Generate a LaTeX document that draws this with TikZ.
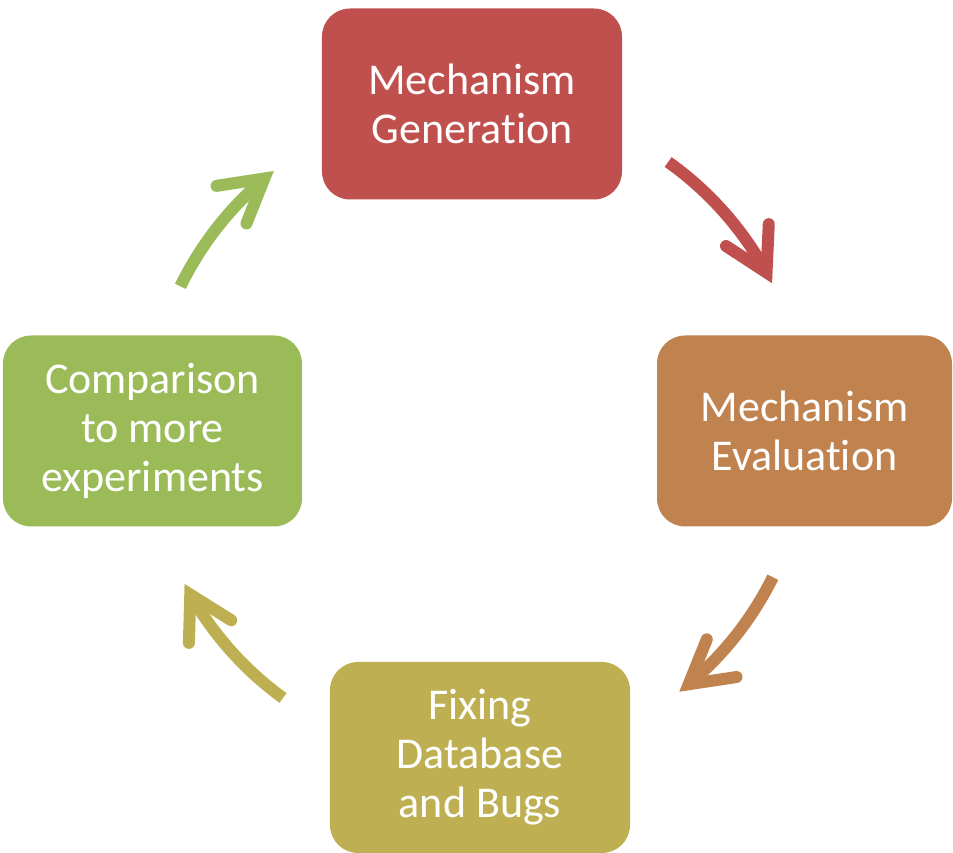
\documentclass[tikz,border=0pt]{standalone}
\usepackage{fontspec}
\setmainfont{Carlito}[Ligatures=NoCommon]
\usetikzlibrary{arrows.meta,bending}
\definecolor{genred}{HTML}{C0504D}
\definecolor{evalorange}{HTML}{C0824F}
\definecolor{fixolive}{HTML}{BEB052}
\definecolor{compgreen}{HTML}{9BBB59}
% keep t and i apart
\newcommand{\tibreak}{t\kern0pt i}

\begin{document}
\begin{tikzpicture}
		[
		x=1pt,y=1pt,
		block/.style={
		rectangle,
		rounded corners=28pt,
		minimum width=299pt,
		minimum height=191pt,
		text=white,
		align=center,
		font=\fontsize{44}{49}\selectfont},
		cycle/.style={
		line width=12pt,
		-{Straight Barb[length=42pt,width=48pt,line cap=round,line join=miter]}}
		]
		\useasboundingbox (-477,-422) rectangle (476,431);
		\coordinate (hub) at (0,0);
		\node[block,fill=genred,minimum width=300pt] (generation) at (-5,327) {Mechanism\\Genera\tibreak on};
		\node[block,fill=evalorange,minimum width=295pt] (evaluation) at (327.5,0) {Mechanism\\Evalua\tibreak on};
		\node[block,fill=fixolive,minimum width=300pt] (fixing) at (3,-326.5) {Fixing\\Database\\and Bugs};
		\node[block,fill=compgreen] (comparison) at (-324.5,0) {Comparison\\to more\\experiments};

		% arrows round the hub
		\draw[cycle,genred] ([shift={(54.6:330)}]hub) arc[start angle=54.6,end angle=26.6,radius=330];
		\draw[cycle,evalorange] ([shift={(-26.3:330)}]hub) arc[start angle=-26.3,end angle=-52.2,radius=330];
		\draw[cycle,fixolive] ([shift={(234:330)}]hub) arc[start angle=234,end angle=207.6,radius=330];
		\draw[cycle,compgreen] ([shift={(154:330)}]hub) arc[start angle=154,end angle=128,radius=330];
		\end{tikzpicture}
\end{document}
